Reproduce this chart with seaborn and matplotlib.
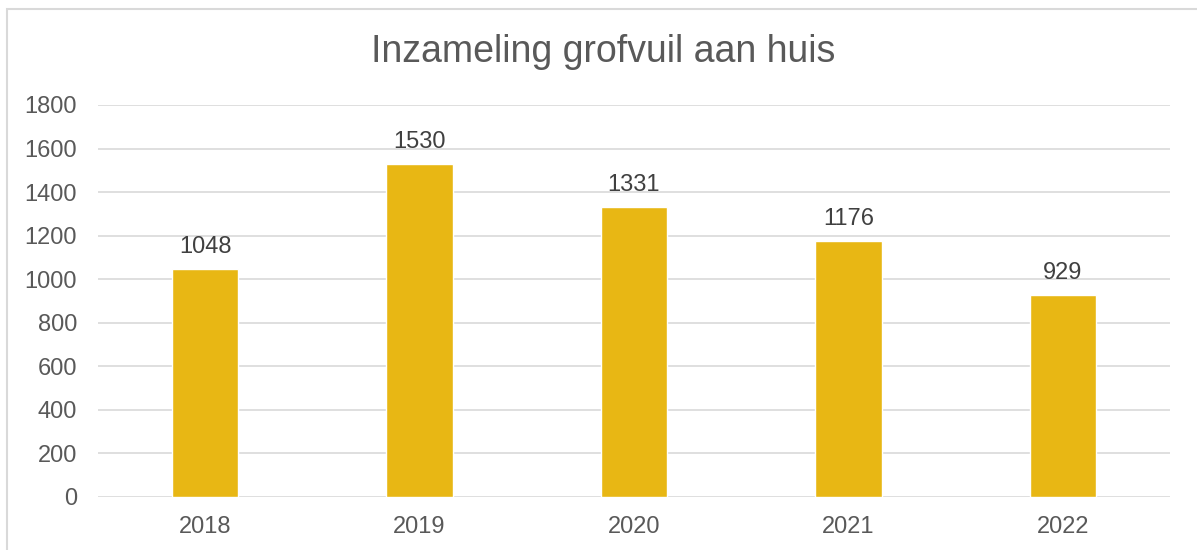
"""
Grofvuil inzameling per jaar.
"""

import matplotlib.pyplot as plt
import pandas as pd
import seaborn as sns
from matplotlib.patches import Rectangle

jaren = ["2018", "2019", "2020", "2021", "2022"]
aantallen = [1048, 1530, 1331, 1176, 929]
y_ticks = [0, 200, 400, 600, 800, 1000, 1200, 1400, 1600, 1800]

df = pd.DataFrame({"Jaar": jaren, "Aantal": aantallen})

sns.set_style("white")
plt.rcParams['font.family'] = ['Liberation Sans', 'DejaVu Sans']

fig = plt.figure(figsize=(11.97, 5.5), dpi=100)
ax = fig.add_axes([0.0819, 0.0964, 0.8955, 0.7127])

# Rand rond de grafiek (rechts en onder afgesneden)
fig.patches.append(Rectangle((7 / 1197, -0.1), 1.2, 1.1 - 9 / 550, transform=fig.transFigure,
                             fill=False, edgecolor='#D9D9D9', linewidth=1.5))

sns.barplot(data=df, x="Jaar", y="Aantal", color="#E8B714", width=0.31,
            saturation=1, ax=ax, zorder=3)

for i, v in enumerate(aantallen):
    ax.text(i, v + 50, str(v), ha='center', va='bottom', fontsize=17, color='#404040')

ax.set_ylim(0, 1800)
ax.set_xlim(-0.5, 4.5)
ax.set_yticks(y_ticks)
ax.yaxis.grid(True, color='#D9D9D9', linewidth=1.2, zorder=0)
for s in ax.spines.values():
    s.set_visible(False)
ax.tick_params(axis='both', labelsize=17, colors='#595959', length=0)
ax.tick_params(axis='y', pad=15)
ax.tick_params(axis='x', pad=14)
ax.set_xlabel("")
ax.set_ylabel("")

fig.text(0.5035, 0.905, "Inzameling grofvuil aan huis", ha='center', va='center',
         fontsize=27, color='#595959')

fig.savefig("out.png", dpi=100)
